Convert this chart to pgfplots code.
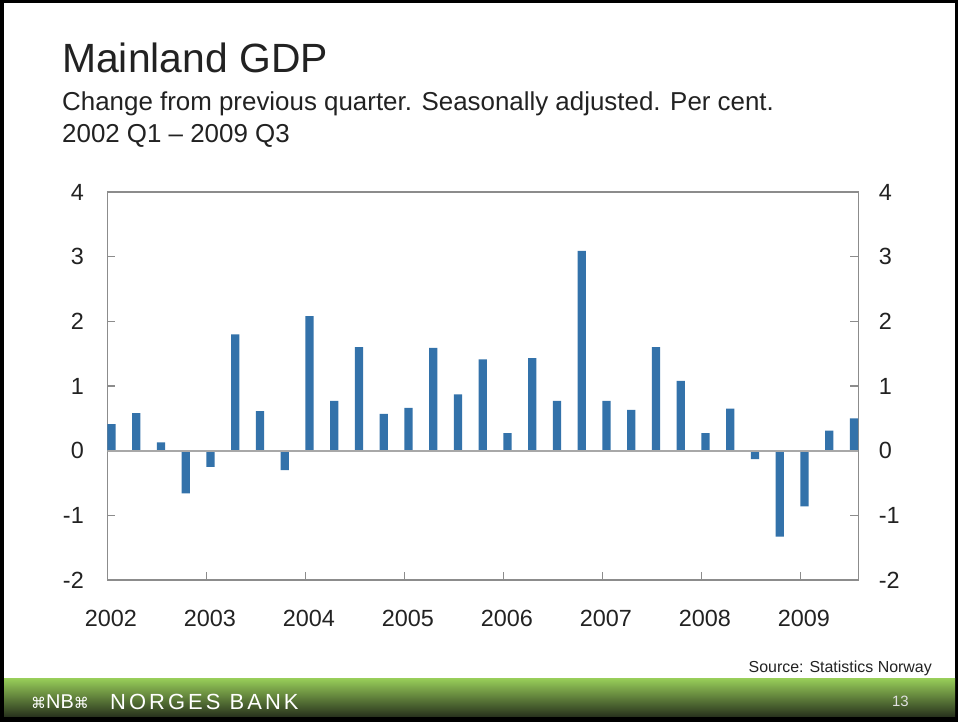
\documentclass[border=0pt]{standalone}
\usepackage{pgfplots}
\pgfplotsset{compat=1.18}
\usepackage{pgfplotstable}
\usepackage{fontspec}
\setmainfont{Liberation Sans}
\newfontfamily\symfont{DejaVu Sans}
\definecolor{barblue}{HTML}{3372AA}
\definecolor{axgray}{HTML}{8C8C8C}
\definecolor{zerogray}{HTML}{A8A8A8}
\definecolor{gtop}{HTML}{96CB58}
\definecolor{gmid}{HTML}{5E8C36}
\definecolor{gbot}{HTML}{26301C}
\definecolor{txt}{HTML}{222222}

\pgfplotstableread{
q v
0 0.41
1 0.58
2 0.13
3 -0.66
4 -0.25
5 1.80
6 0.61
7 -0.30
8 2.08
9 0.77
10 1.60
11 0.57
12 0.66
13 1.59
14 0.87
15 1.41
16 0.27
17 1.43
18 0.77
19 3.09
20 0.77
21 0.63
22 1.60
23 1.08
24 0.27
25 0.65
26 -0.13
27 -1.33
28 -0.86
29 0.31
30 0.50
}\gdp

\begin{document}
\begin{tikzpicture}
\begin{scope}[x=1bp,y=1bp]
\fill[black] (0,0) rectangle (958,722);
\fill[white] (4,43) rectangle (955,719);
\shade[top color=gtop, middle color=gmid, bottom color=gbot] (4,5) rectangle (955,43);

\node[anchor=base west, inner sep=0, text=txt, font=\fontsize{41}{46}\selectfont] at (62,649) {Mainland GDP};
\node[anchor=base west, inner sep=0, text=txt, font=\fontsize{26}{30}\selectfont] at (62,611) {Change from previous quarter. Seasonally adjusted. Per cent.};
\node[anchor=base west, inner sep=0, text=txt, font=\fontsize{26}{30}\selectfont] at (62,579) {2002 Q1 -- 2009 Q3};

\node[anchor=base east, inner sep=0, text=txt, font=\fontsize{16}{19}\selectfont] at (932,49.5) {Source: Statistics Norway};
\node[anchor=base east, inner sep=0, text=white!88!black, font=\fontsize{15}{18}\selectfont] at (909,15) {13};
\node[anchor=base west, inner sep=0, text=white, font=\fontsize{20}{24}\selectfont] at (31,13) {{\symfont\fontsize{15}{18}\selectfont ⌘}NB{\symfont\fontsize{15}{18}\selectfont ⌘}};
\node[anchor=base west, inner sep=0, text=white, font=\fontsize{22}{26}\selectfont\addfontfeature{LetterSpace=14}] at (110,12.7) {NORGES BANK};
\end{scope}

\begin{axis}[
  at={(107.3bp,142bp)}, anchor=south west,
  width=751bp, height=388bp, scale only axis,
  xmin=0, xmax=30.34, ymin=-2, ymax=4,
  axis line style={axgray, line width=1.3bp},
  tick style={axgray, line width=1.2bp},
  major tick length=8bp,
  tick align=inside,
  xtick={0,4,...,28},
  xticklabels={2002,2003,2004,2005,2006,2007,2008,2009},
  xtick pos=left,
  ytick={-2,-1,0,1,2,3,4},
  ytick pos=both,
  yticklabel pos=left,
  /pgf/number format/assume math mode=true,
  ticklabel style={font=\fontsize{23.5}{27}\selectfont, text=txt},
  xticklabel style={yshift=-27bp, xshift=3.5bp},
  yticklabel style={xshift=-20bp},
]
\addplot[ybar, bar width=8.3bp, bar shift=4.15bp, fill=barblue, draw=none] table[x=q, y=v]{\gdp};
\addplot[zerogray, line width=1.8bp] coordinates {(0,0) (30.34,0)};
\end{axis}

\begin{axis}[
  at={(107.3bp,142bp)}, anchor=south west,
  width=751bp, height=388bp, scale only axis,
  xmin=0, xmax=30.34, ymin=-2, ymax=4,
  hide x axis,
  axis y line*=right,
  axis line style={draw=none},
  ytick style={draw=none},
  ytick={-2,-1,0,1,2,3,4},
  /pgf/number format/assume math mode=true,
  ticklabel style={font=\fontsize{23.5}{27}\selectfont, text=txt},
  yticklabel style={xshift=17bp},
]
\addplot[draw=none] coordinates {(0,0)};
\end{axis}
\end{tikzpicture}
\end{document}
